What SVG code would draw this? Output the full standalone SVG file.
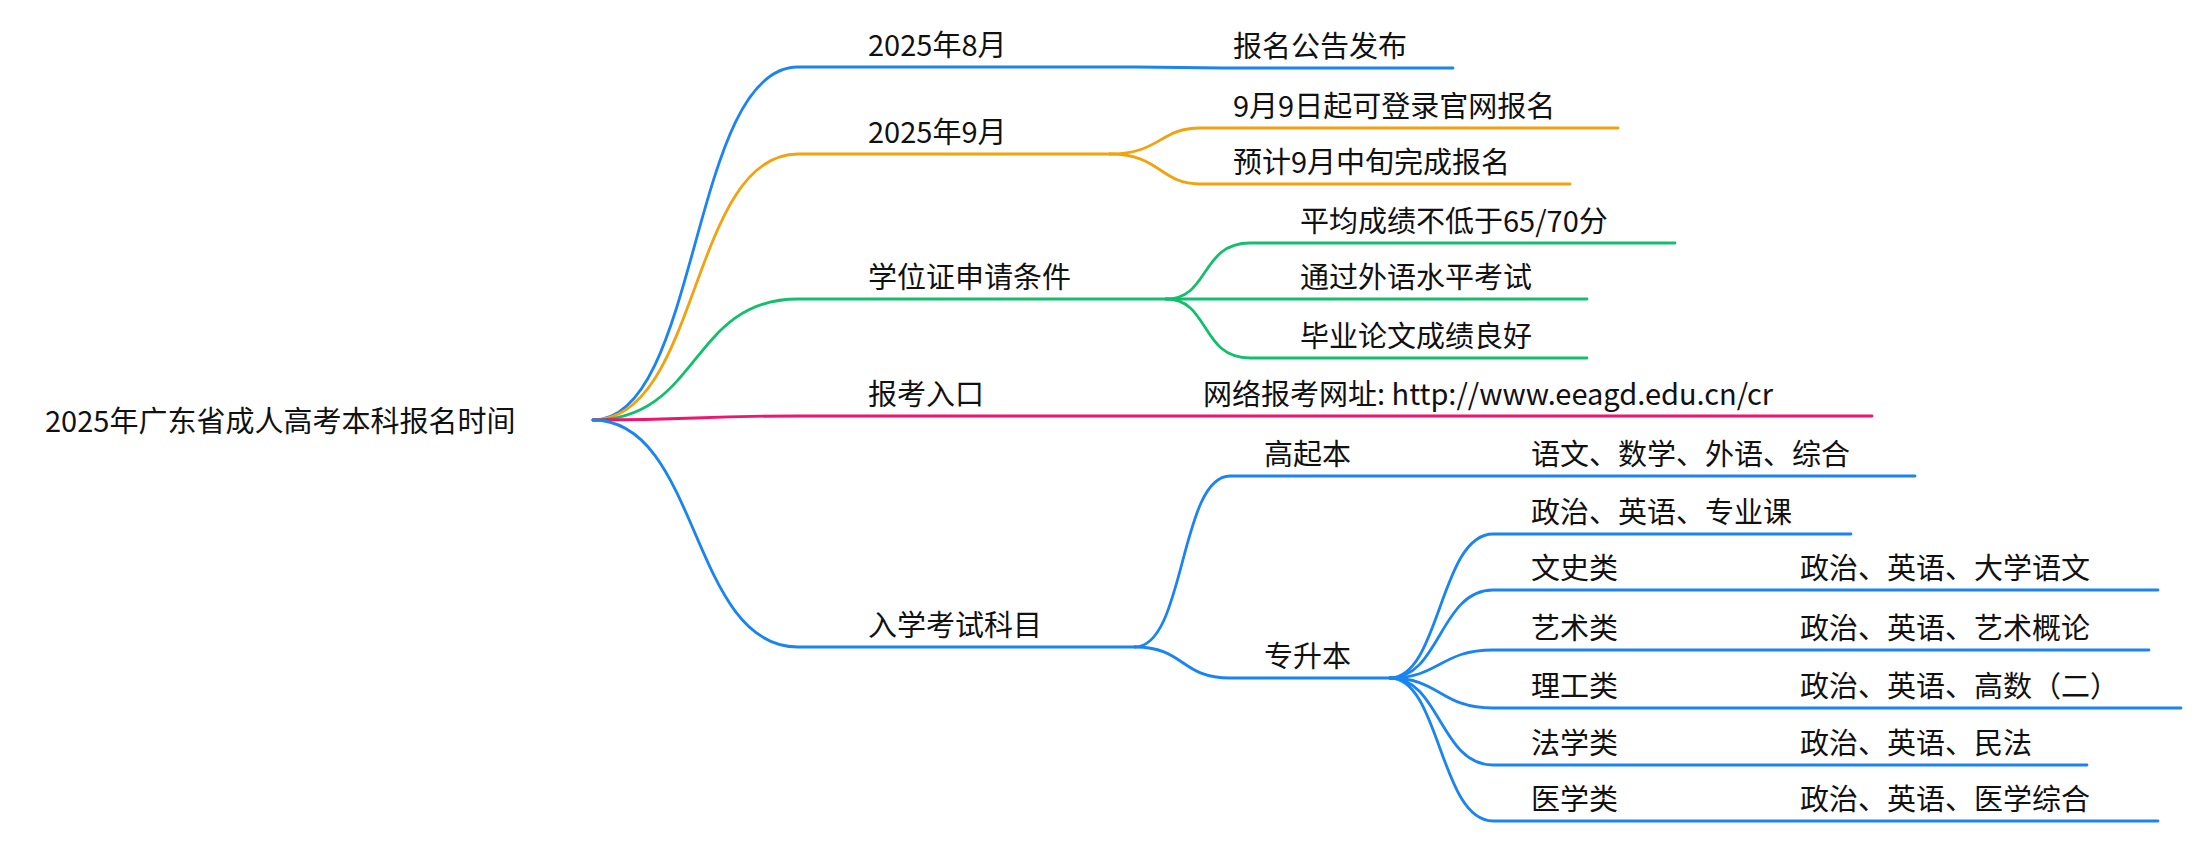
<svg xmlns="http://www.w3.org/2000/svg" width="2202" height="844" viewBox="0 0 2202 844">
<style>
text{font-family:"Noto Sans CJK SC","Noto Sans",sans-serif;font-size:29px;fill:#111}
path{fill:none;stroke-width:2.8;stroke-linecap:round}
.b{stroke:#1a84f2}.o{stroke:#f2a20c}.g{stroke:#12bf6c}.p{stroke:#f2136e}
</style>
<rect width="2202" height="844" fill="#fff"/>
<g id="connectors">
<path class="b" d="M593 420C700 420 690 67 798 67H1135C1180 67 1180 68 1222 68H1453"/>
<path class="o" d="M593 420C700 420 690 154 798 154H1110"/>
<path class="o" d="M1110 154C1160 154 1160 128 1200 128H1618"/>
<path class="o" d="M1110 154C1160 154 1160 184 1200 184H1570"/>
<path class="g" d="M593 420C700 420 690 299 798 299H1166"/>
<path class="g" d="M1166 299C1210 299 1200 243 1250 243H1675"/>
<path class="g" d="M1166 299H1587"/>
<path class="g" d="M1166 299C1210 299 1200 358 1250 358H1587"/>
<path class="p" d="M593 420C700 420 690 416 798 416H1872"/>
<path class="b" d="M593 420C700 420 690 647 798 647H1135"/>
<path class="b" d="M1135 647C1185 647 1180 476 1230 476H1915"/>
<path class="b" d="M1135 647C1185 647 1180 678 1230 678H1390"/>
<path class="b" d="M1390 678C1440 678 1440 534 1493 534H1851"/>
<path class="b" d="M1390 678C1440 678 1440 590 1493 590H2158"/>
<path class="b" d="M1390 678C1440 678 1440 650 1493 650H2149"/>
<path class="b" d="M1390 678C1440 678 1440 708 1493 708H2181"/>
<path class="b" d="M1390 678C1440 678 1440 765 1493 765H2087"/>
<path class="b" d="M1390 678C1440 678 1440 821 1493 821H2158"/>
</g>
<g id="root"><text x="45" y="432">2025年广东省成人高考本科报名时间</text></g>
<g id="n1"><text x="868" y="56">2025年8月</text><text x="1233" y="57">报名公告发布</text></g>
<g id="n2"><text x="868" y="143">2025年9月</text><text x="1233" y="117">9月9日起可登录官网报名</text><text x="1233" y="173">预计9月中旬完成报名</text></g>
<g id="n3"><text x="868" y="288">学位证申请条件</text><text x="1300" y="232">平均成绩不低于65/70分</text><text x="1300" y="288">通过外语水平考试</text><text x="1300" y="347">毕业论文成绩良好</text></g>
<g id="n4"><text x="868" y="405">报考入口</text><text x="1203" y="405">网络报考网址: http://www.eeagd.edu.cn/cr</text></g>
<g id="n5"><text x="868" y="636">入学考试科目</text>
<text x="1264" y="465">高起本</text><text x="1531" y="465">语文、数学、外语、综合</text>
<text x="1264" y="667">专升本</text>
<text x="1531" y="523">政治、英语、专业课</text>
<text x="1531" y="579">文史类</text><text x="1800" y="579">政治、英语、大学语文</text>
<text x="1531" y="639">艺术类</text><text x="1800" y="639">政治、英语、艺术概论</text>
<text x="1531" y="697">理工类</text><text x="1800" y="697">政治、英语、高数（二）</text>
<text x="1531" y="754">法学类</text><text x="1800" y="754">政治、英语、民法</text>
<text x="1531" y="810">医学类</text><text x="1800" y="810">政治、英语、医学综合</text>
</g>
</svg>
